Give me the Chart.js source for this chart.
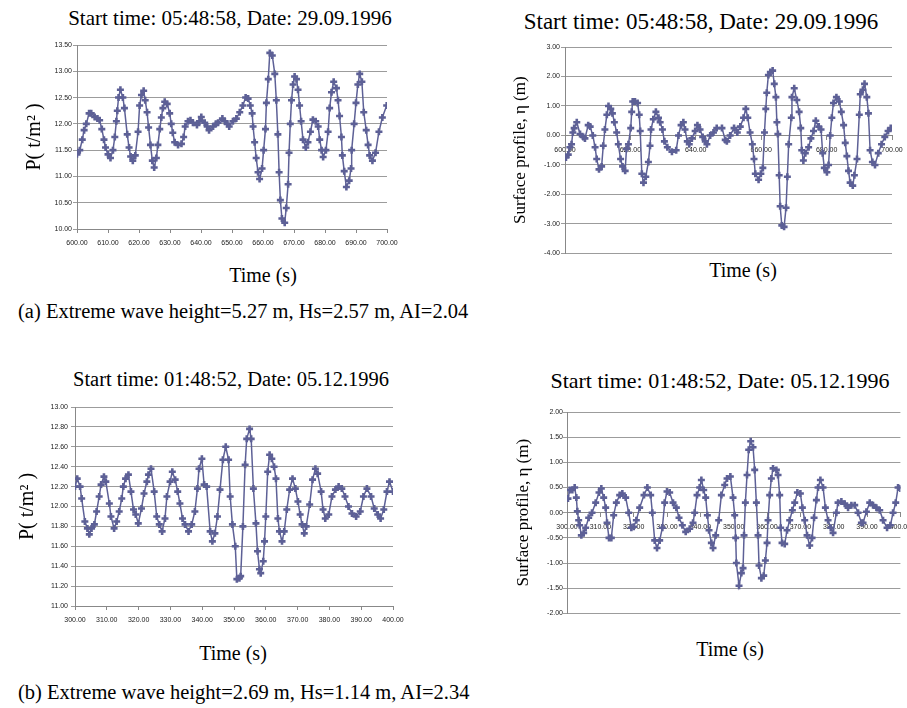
<!DOCTYPE html>
<html>
<head>
<meta charset="utf-8">
<script src="https://cdn.jsdelivr.net/npm/chart.js@4.4.1/dist/chart.umd.min.js"></script>
<style>
    body { margin: 0; width: 907px; height: 708px; position: relative; background: #fff; overflow: hidden; font-family: "Liberation Serif", serif; color: #000; }
    canvas { position: absolute; }
    .lbl { position: absolute; transform: translate(-50%, -50%); white-space: nowrap; font-size: 20px; }
    .cap { position: absolute; transform: translateY(-50%); white-space: nowrap; font-size: 20.5px; left: 18px; }
</style>
</head>
<body>

<div class="lbl" style="left:230px; top:18px; font-size:21px;">Start time: 05:48:58, Date: 29.09.1996</div>
<div class="lbl" style="left:701px; top:22px; font-size:23px;">Start time: 05:48:58, Date: 29.09.1996</div>
<div class="lbl" style="left:263px; top:275px;">Time (s)</div>
<div class="lbl" style="left:743px; top:270px;">Time (s)</div>
<div class="cap" style="top:311px;">(a) Extreme wave height=5.27 m, Hs=2.57 m, AI=2.04</div>

<div class="lbl" style="left:231px; top:379px; font-size:20.5px;">Start time: 01:48:52, Date: 05.12.1996</div>
<div class="lbl" style="left:720px; top:381px; font-size:22px;">Start time: 01:48:52, Date: 05.12.1996</div>
<div class="lbl" style="left:233px; top:653px;">Time (s)</div>
<div class="lbl" style="left:730px; top:649px;">Time (s)</div>
<div class="cap" style="top:692px;">(b) Extreme wave height=2.69 m, Hs=1.14 m, AI=2.34</div>

<canvas id="chartPa" width="400" height="215" style="left:0px; top:35px;"></canvas>
<canvas id="chartEtaA" width="427" height="225" style="left:480px; top:35px;"></canvas>
<canvas id="chartPb" width="410" height="240" style="left:0px; top:395px;"></canvas>
<canvas id="chartEtaB" width="427" height="220" style="left:480px; top:400px;"></canvas>

<script>
// ------------------------------------------------------------
// DONNEES (points tels que relevés)
// ------------------------------------------------------------

// (a) 29.09.1996 : pression, t = 600 ... 700 s
const timePa = [
    600.0, 600.9, 601.7, 602.3, 603.0, 603.9, 604.6, 605.7, 606.6, 607.3,
    608.0, 608.7, 609.2, 610.0, 610.8, 611.6, 612.2, 612.7, 613.0, 613.4,
    614.0, 614.8, 615.3, 616.2, 616.8, 617.3, 618.0, 618.8, 619.7, 620.2,
    620.8, 621.5, 622.0, 622.6, 623.1, 623.7, 624.3, 624.9, 625.6, 626.1,
    626.7, 627.2, 627.7, 628.3, 629.1, 629.9, 630.4, 630.9, 631.5, 632.6,
    633.7, 634.4, 634.9, 635.8, 636.6, 637.4, 638.7, 639.5, 640.1, 641.2,
    642.0, 642.6, 643.9, 644.8, 645.5, 646.9, 647.7, 648.5, 649.1, 650.3,
    651.4, 652.5, 653.5, 654.4, 655.2, 655.9, 656.5, 656.8, 657.3, 657.8,
    658.4, 658.9, 659.7, 660.2, 660.8, 661.1, 661.7, 662.2, 663.0, 663.8,
    664.3, 664.8, 665.2, 665.6, 666.1, 667.0, 667.5, 668.1, 668.4, 668.8,
    669.2, 669.7, 670.2, 670.8, 671.3, 671.8, 672.3, 672.9, 673.8, 674.5,
    675.3, 676.1, 677.0, 677.8, 678.3, 678.9, 679.4, 680.3, 681.0, 681.5,
    682.1, 682.8, 683.7, 684.2, 684.7, 685.3, 685.6, 686.2, 686.9, 687.8,
    688.4, 688.6, 689.4, 690.0, 690.6, 691.2, 691.9, 692.5, 693.3, 693.9,
    694.4, 695.3, 696.3, 697.4, 698.5, 699.9
];
const pressureA = [
    11.42, 11.50, 11.70, 11.88, 12.00, 12.20, 12.20, 12.13, 12.10, 12.07,
    11.90, 11.70, 11.55, 11.42, 11.35, 11.50, 11.75, 12.05, 12.25, 12.50,
    12.65, 12.50, 12.30, 11.80, 11.55, 11.38, 11.30, 11.40, 11.85, 12.35,
    12.55, 12.63, 12.45, 12.22, 11.93, 11.60, 11.30, 11.17, 11.35, 11.60,
    11.90, 12.12, 12.30, 12.42, 12.38, 12.20, 12.00, 11.83, 11.65, 11.60,
    11.62, 11.75, 11.95, 12.05, 12.07, 12.02, 11.98, 12.05, 12.13, 12.02,
    11.95, 11.88, 11.95, 12.00, 12.02, 12.10, 12.05, 12.00, 11.95, 12.05,
    12.10, 12.22, 12.35, 12.50, 12.48, 12.35, 12.20, 11.95, 11.65, 11.35,
    11.08, 10.95, 11.15, 11.50, 11.90, 12.40, 12.85, 13.35, 13.30, 12.95,
    12.45, 11.80, 11.08, 10.55, 10.20, 10.12, 10.40, 10.85, 11.45, 12.00,
    12.45, 12.75, 12.90, 12.85, 12.65, 12.35, 12.05, 11.70, 11.55, 11.65,
    11.85, 12.08, 12.05, 11.95, 11.70, 11.50, 11.37, 11.50, 11.85, 12.30,
    12.60, 12.80, 12.68, 12.45, 12.15, 11.75, 11.40, 11.10, 10.80, 10.92,
    11.15, 11.50, 12.00, 12.40, 12.75, 12.95, 12.80, 12.22, 11.88, 11.60,
    11.40, 11.30, 11.45, 11.85, 12.12, 12.35
];

// (a) 29.09.1996 : surface libre
const timeEtaA = [
    600.3, 601.0, 601.5, 602.0, 602.4, 602.8, 603.6, 604.6, 605.6, 606.1,
    607.1, 607.7, 608.5, 609.2, 609.7, 610.4, 611.2, 611.7, 612.2, 612.8,
    613.3, 614.0, 614.5, 615.1, 615.8, 616.3, 617.0, 617.6, 618.4, 618.8,
    619.4, 620.1, 620.4, 620.7, 621.4, 622.2, 622.7, 623.0, 623.5, 624.0,
    624.7, 625.5, 626.0, 626.3, 627.0, 627.8, 628.6, 629.1, 629.8, 630.4,
    631.3, 632.7, 634.0, 634.7, 635.5, 636.2, 636.7, 637.4, 638.0, 638.8,
    639.8, 640.5, 641.3, 642.1, 642.9, 643.4, 644.4, 645.4, 646.4, 648.0,
    649.0, 649.5, 650.5, 651.7, 652.7, 653.6, 654.6, 655.3, 655.9, 656.6,
    657.3, 657.8, 658.2, 659.2, 659.9, 660.5, 661.0, 661.4, 661.7, 662.2,
    662.8, 663.5, 664.0, 664.5, 664.8, 665.1, 665.5, 665.8, 666.3, 667.0,
    667.6, 668.0, 668.4, 669.2, 669.4, 670.1, 670.9, 671.6, 672.1, 672.4,
    672.9, 673.5, 674.5, 675.2, 676.0, 676.7, 677.6, 678.3, 678.8, 679.3,
    680.1, 680.6, 681.1, 681.6, 682.1, 683.0, 683.9, 684.5, 685.2, 685.7,
    686.2, 686.7, 687.2, 688.0, 688.5, 689.3, 690.0, 690.3, 691.1, 691.6,
    692.3, 692.8, 693.3, 694.0, 694.8, 695.8, 696.8, 697.8, 698.8, 699.6
];
const etaA = [
    -0.75, -0.65, -0.40, -0.30, 0.10, 0.25, 0.45, 0.05, -0.05, -0.10,
    0.35, 0.30, 0.00, -0.40, -0.80, -1.15, -1.05, -0.35, 0.20, 0.70,
    1.00, 0.90, 0.75, 0.45, 0.10, -0.30, -0.80, -1.05, -1.20, -0.45,
    -0.30, 0.25, 0.80, 1.15, 1.15, 1.10, 0.70, 0.15, -1.30, -1.60,
    -1.40, -0.90, -0.35, 0.20, 0.55, 0.80, 0.60, 0.45, 0.20, -0.20,
    -0.40, -0.55, -0.50, 0.00, 0.35, 0.45, 0.20, -0.20, -0.30, -0.10,
    0.15, 0.35, 0.20, -0.05, -0.20, -0.30, 0.00, 0.10, 0.25, 0.25,
    -0.15, -0.20, 0.00, 0.25, 0.10, 0.30, 0.60, 0.90, 0.60, 0.10,
    -0.30, -0.80, -1.30, -1.50, -1.30, -1.10, 0.10, 0.90, 1.45, 2.05,
    2.15, 2.20, 1.75, 1.30, 0.45, 0.05, -1.35, -2.40, -3.05, -3.10,
    -2.45, -1.40, -0.30, 0.60, 1.30, 1.60, 1.20, 0.80, 0.25, -0.50,
    -0.85, -0.60, -0.40, -0.10, 0.15, 0.50, 0.30, 0.20, -0.60, -1.10,
    -1.25, -1.00, 0.00, 0.60, 1.10, 1.30, 1.15, 0.80, 0.35, -0.25,
    -0.70, -1.20, -1.60, -1.70, -1.35, -0.80, 0.70, 1.40, 1.55, 1.75,
    1.30, 0.75, -0.50, -0.90, -1.00, -0.60, -0.30, -0.05, 0.15, 0.25
];

// (b) 05.12.1996 : pression, t = 300 ... 400 s
const timePb = [
    300.0, 300.7, 301.6, 302.1, 303.1, 303.9, 304.5, 305.2, 306.1, 306.8,
    307.6, 308.2, 309.1, 309.7, 310.8, 311.3, 312.3, 313.1, 313.9, 314.7,
    315.2, 315.9, 316.8, 317.6, 318.4, 319.1, 319.9, 320.9, 321.7, 322.6,
    323.1, 323.9, 324.9, 325.7, 326.5, 327.4, 328.3, 328.9, 329.9, 330.6,
    331.5, 332.3, 333.0, 333.8, 334.6, 335.7, 336.7, 337.7, 338.5, 339.0,
    339.9, 340.6, 341.4, 342.5, 343.2, 344.0, 344.8, 345.6, 346.5, 347.4,
    348.3, 348.8, 349.5, 350.4, 350.9, 351.7, 352.1, 352.8, 353.5, 354.0,
    354.9, 355.4, 356.1, 356.9, 357.4, 358.0, 358.4, 359.2, 359.6, 360.0,
    360.6, 361.2, 361.9, 362.6, 363.2, 363.8, 364.3, 365.1, 365.8, 366.6,
    367.5, 368.4, 369.3, 370.1, 370.8, 371.4, 372.1, 372.7, 373.8, 374.7,
    375.6, 376.3, 377.4, 378.0, 378.7, 379.8, 380.8, 381.9, 382.9, 383.9,
    384.9, 386.0, 387.1, 388.4, 389.7, 390.7, 391.8, 393.1, 394.1, 395.2,
    396.1, 397.1, 398.1, 398.9, 400.0
];
const pressureB = [
    12.20, 12.28, 12.20, 12.08, 11.85, 11.78, 11.72, 11.78, 11.82, 11.95,
    12.10, 12.22, 12.30, 12.25, 12.03, 11.90, 11.78, 11.85, 11.95, 12.08,
    12.20, 12.28, 12.32, 12.15, 11.97, 11.92, 11.83, 11.98, 12.13, 12.25,
    12.32, 12.38, 12.15, 11.90, 11.82, 11.75, 11.88, 12.10, 12.25, 12.35,
    12.27, 12.15, 12.03, 11.88, 11.82, 11.75, 11.82, 11.95, 12.18, 12.38,
    12.48, 12.22, 12.20, 11.75, 11.65, 11.73, 11.90, 12.17, 12.47, 12.60,
    12.47, 12.10, 11.82, 11.60, 11.27, 11.28, 11.30, 11.80, 12.42, 12.68,
    12.78, 12.68, 12.18, 11.83, 11.55, 11.37, 11.33, 11.45, 11.65, 11.90,
    12.35, 12.52, 12.48, 12.40, 12.28, 11.88, 11.75, 11.65, 11.75, 11.97,
    12.17, 12.28, 12.18, 12.05, 11.92, 11.82, 11.73, 11.80, 12.02, 12.27,
    12.38, 12.33, 12.15, 11.97, 11.88, 11.92, 12.10, 12.17, 12.20, 12.18,
    12.10, 12.00, 11.93, 11.90, 11.95, 12.10, 12.18, 12.10, 11.98, 11.92,
    11.88, 11.97, 12.15, 12.25, 12.15
];

// (b) 05.12.1996 : surface libre
const timeEtaB = [
    300.3, 300.8, 301.6, 302.3, 302.8, 303.1, 303.5, 303.8, 304.3, 305.0,
    305.6, 306.5, 307.5, 308.6, 309.6, 310.3, 311.0, 311.6, 312.0, 312.6,
    313.3, 314.0, 314.8, 315.8, 316.6, 317.6, 318.5, 319.3, 320.0, 320.8,
    321.8, 323.1, 324.1, 325.1, 325.6, 326.3, 327.0, 327.8, 328.6, 329.3,
    330.0, 330.8, 331.8, 332.8, 333.6, 334.6, 335.6, 336.8, 337.8, 338.3,
    339.0, 339.8, 340.3, 341.0, 341.6, 342.1, 342.6, 343.3, 343.8, 344.6,
    345.5, 346.3, 347.3, 348.0, 349.0, 349.8, 350.3, 350.6, 350.8, 351.6,
    352.3, 352.8, 353.1, 353.5, 354.0, 354.5, 355.1, 355.8, 356.3, 356.8,
    357.3, 357.6, 358.3, 359.0, 359.5, 360.0, 360.3, 360.8, 361.3, 361.8,
    362.8, 363.3, 363.8, 364.1, 364.5, 365.3, 366.0, 366.8, 367.6, 368.3,
    369.1, 370.0, 370.6, 371.3, 372.0, 372.8, 373.5, 374.1, 374.8, 375.3,
    376.0, 376.8, 377.5, 378.3, 379.1, 379.8, 380.8, 381.3, 382.3, 383.3,
    384.3, 385.3, 386.3, 387.3, 388.3, 388.8, 389.8, 390.8, 391.8, 392.8,
    393.8, 394.8, 396.0, 397.0, 397.8, 398.6, 399.3, 400.0
];
const etaB = [
    0.28, 0.45, 0.45, 0.50, 0.30, 0.03, -0.15, -0.25, -0.45, -0.40,
    -0.30, -0.10, 0.00, 0.20, 0.40, 0.48, 0.30, 0.10, -0.20, -0.50,
    -0.50, -0.05, 0.20, 0.35, 0.38, 0.30, 0.00, -0.30, -0.28, -0.15,
    0.10, 0.35, 0.50, 0.35, 0.00, -0.55, -0.70, -0.55, -0.30, 0.20,
    0.42, 0.40, 0.20, 0.10, -0.10, -0.25, -0.38, -0.32, -0.20, 0.00,
    0.35, 0.50, 0.65, 0.45, 0.30, -0.05, -0.35, -0.60, -0.70, -0.45,
    -0.15, 0.35, 0.55, 0.68, 0.72, 0.30, -0.05, -0.50, -1.00, -1.45,
    -1.20, -1.10, -0.45, 0.20, 0.75, 1.25, 1.42, 1.30, 0.85, 0.20,
    -0.45, -1.05, -1.30, -1.25, -0.95, -0.60, -0.15, 0.35, 0.68, 0.88,
    0.85, 0.75, 0.35, -0.30, -0.60, -0.62, -0.35, -0.15, 0.05, 0.20,
    0.40, 0.38, 0.10, -0.15, -0.45, -0.65, -0.50, -0.10, 0.25, 0.50,
    0.65, 0.50, 0.10, -0.15, -0.30, -0.40, 0.00, 0.20, 0.22, 0.18,
    0.10, 0.15, 0.15, 0.00, -0.20, -0.20, 0.02, 0.20, 0.15, 0.10,
    0.05, -0.15, -0.30, -0.25, 0.00, 0.20, 0.50, 0.48
];

// ------------------------------------------------------------
// STYLE COMMUN
// ------------------------------------------------------------
const lineColor = "#5d6096";
const gridColor = "#9c9c9c";
const tickFont = { family: "Liberation Sans", size: 7 };

function toPoints(times, values) {
    return times.map((t, i) => ({ x: t, y: values[i] }));
}

function makeChart(id, cfg) {
    const ctx = document.getElementById(id);
    return new Chart(ctx, {
        type: "line",
        data: {
            datasets: [{
                data: toPoints(cfg.times, cfg.values),
                borderColor: lineColor,
                backgroundColor: lineColor,
                borderWidth: 1.5,
                pointStyle: "cross",
                pointRadius: 3.5,
                pointBorderWidth: 2.6,
                tension: 0
            }]
        },
        options: {
            responsive: false,
            animation: false,
            devicePixelRatio: 1,
            layout: { padding: cfg.padding },
            plugins: { legend: { display: false }, tooltip: { enabled: false } },
            scales: {
                x: {
                    type: "linear",
                    position: cfg.xAtZero ? { y: 0 } : "bottom",
                    min: cfg.xMin,
                    max: cfg.xMin + 100,
                    grid: { drawOnChartArea: false, drawTicks: true, tickLength: 4, color: "#888" },
                    border: { color: "#888" },
                    ticks: {
                        stepSize: cfg.xStep, autoSkip: false, maxRotation: 0, padding: 6,
                        font: tickFont, color: "#222",
                        callback: v => v.toFixed(2)
                    },
                    afterFit: s => { s.height = cfg.xHeight; s.paddingLeft = 0; s.paddingRight = 0; }
                },
                y: {
                    min: cfg.yMin,
                    max: cfg.yMax,
                    grid: { color: gridColor, tickLength: 4 },
                    border: { color: "#888" },
                    ticks: {
                        stepSize: cfg.yStep, padding: cfg.yPad,
                        font: tickFont, color: "#222",
                        callback: v => v.toFixed(2)
                    },
                    title: {
                        display: true,
                        text: cfg.yTitle,
                        padding: 0,
                        color: "#000",
                        font: { family: "Liberation Serif", size: cfg.yTitleSize }
                    },
                    afterFit: s => { s.width = cfg.yWidth; s.paddingTop = 0; s.paddingBottom = 0; }
                }
            }
        }
    });
}

// ------------------------------------------------------------
// GRAPHIQUES
// ------------------------------------------------------------
makeChart("chartPa", {
    times: timePa, values: pressureA, xMin: 600, xStep: 10,
    yMin: 10, yMax: 13.5, yStep: 0.5, yPad: 1,
    yTitle: "P( t/m\u00B2 )", yTitleSize: 20,
    padding: { left: 23, top: 10, right: 13, bottom: 0 },
    yWidth: 54, xHeight: 21
});

makeChart("chartEtaA", {
    times: timeEtaA, values: etaA, xMin: 600, xStep: 20, xAtZero: true,
    yMin: -4, yMax: 3, yStep: 1, yPad: 1,
    yTitle: "Surface profile, \u03B7 (m)", yTitleSize: 17,
    padding: { left: 30, top: 12, right: 15, bottom: 0 },
    yWidth: 55, xHeight: 14
});

makeChart("chartPb", {
    times: timePb, values: pressureB, xMin: 300, xStep: 10,
    yMin: 11, yMax: 13, yStep: 0.2, yPad: 3,
    yTitle: "P( t/m\u00B2 )", yTitleSize: 20,
    padding: { left: 16, top: 12, right: 17, bottom: 0 },
    yWidth: 59, xHeight: 29
});

makeChart("chartEtaB", {
    times: timeEtaB, values: etaB, xMin: 300, xStep: 10, xAtZero: true,
    yMin: -2, yMax: 2, yStep: 0.5, yPad: 0,
    yTitle: "Surface profile, \u03B7 (m)", yTitleSize: 17,
    padding: { left: 33, top: 12, right: 6, bottom: 0 },
    yWidth: 54, xHeight: 17
});
</script>
</body>
</html>
